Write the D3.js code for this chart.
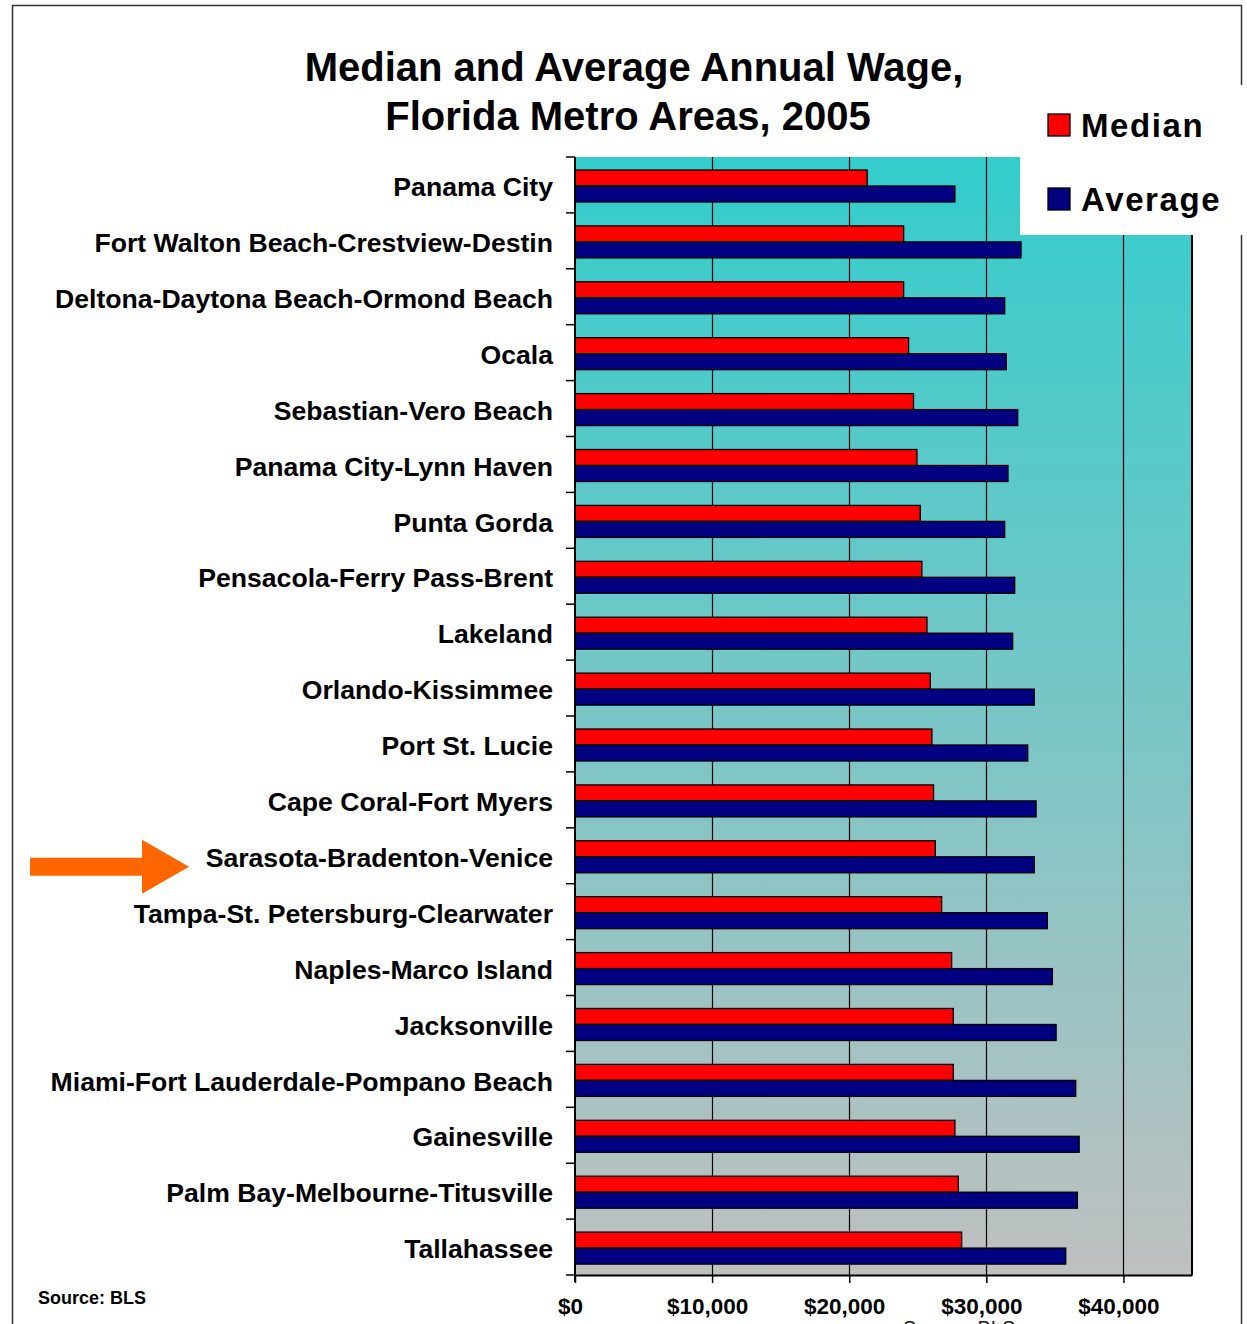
<!DOCTYPE html>
<html lang="en">
<head>
  <meta charset="UTF-8">
  <title>Median and Average Annual Wage</title>
  <style>
    body { margin: 0; background: #fff; }
    text { font-family: "Liberation Sans", Arial, sans-serif; }
  </style>
</head>
<body>
  <script src="https://d3js.org/d3.v7.min.js"></script>
  <script>
    // data
    let metros = [
      "Panama City",
      "Fort Walton Beach-Crestview-Destin",
      "Deltona-Daytona Beach-Ormond Beach",
      "Ocala",
      "Sebastian-Vero Beach",
      "Panama City-Lynn Haven",
      "Punta Gorda",
      "Pensacola-Ferry Pass-Brent",
      "Lakeland",
      "Orlando-Kissimmee",
      "Port St. Lucie",
      "Cape Coral-Fort Myers",
      "Sarasota-Bradenton-Venice",
      "Tampa-St. Petersburg-Clearwater",
      "Naples-Marco Island",
      "Jacksonville",
      "Miami-Fort Lauderdale-Pompano Beach",
      "Gainesville",
      "Palm Bay-Melbourne-Titusville",
      "Tallahassee"
    ];
    let medianWage = [21310, 23970, 23970, 24330, 24690, 24940, 25180, 25300, 25670, 25910,
                      26030, 26150, 26280, 26740, 27470, 27590, 27590, 27710, 27960, 28200];
    let averageWage = [27710, 32530, 31340, 31460, 32290, 31580, 31340, 32070, 31920, 33500,
                       33020, 33630, 33500, 34450, 34820, 35090, 36520, 36770, 36640, 35790];
    let seriesNames = ["Median", "Average"];
    let seriesColors = ["#FF0000", "#000080"];
    let xTicks = [0, 10000, 20000, 30000, 40000];
    let highlighted = "Sarasota-Bradenton-Venice";

    let width = 1247, height = 1324;
    let plotLeft = 575, plotRight = 1192, plotTop = 157, plotBottom = 1275;

    let svg = d3.select("body").append("svg")
      .attr("width", width)
      .attr("height", height);

    // outer frame
    svg.append("rect")
      .attr("x", 12.5).attr("y", 5.5)
      .attr("width", 1229).attr("height", 1360)
      .attr("fill", "none")
      .attr("stroke", "#333")
      .attr("stroke-width", 1.5);

    let grad = svg.append("defs").append("linearGradient")
      .attr("id", "bg")
      .attr("x1", 0).attr("y1", 0).attr("x2", 0).attr("y2", 1);
    grad.append("stop").attr("offset", "0%").attr("stop-color", "#33CCCC");
    grad.append("stop").attr("offset", "100%").attr("stop-color", "#C0C0C0");

    let x = d3.scaleLinear().domain([0, 45000]).range([plotLeft, plotRight]);
    let y0 = d3.scaleBand().domain(metros).range([plotTop, plotBottom]);
    let y1 = d3.scaleBand().domain(seriesNames).range([13, 45]);

    // plot area
    svg.append("rect")
      .attr("x", plotLeft).attr("y", plotTop)
      .attr("width", plotRight - plotLeft).attr("height", plotBottom - plotTop)
      .attr("fill", "url(#bg)");

    // gridlines
    svg.append("g").selectAll("line")
      .data(xTicks.filter(d => d > 0))
      .join("line")
      .attr("x1", d => Math.round(x(d)) + 0.5).attr("x2", d => Math.round(x(d)) + 0.5)
      .attr("y1", plotTop).attr("y2", plotBottom)
      .attr("stroke", "#000").attr("stroke-width", 1.2);

    // right border
    svg.append("line")
      .attr("x1", plotRight).attr("x2", plotRight)
      .attr("y1", plotTop).attr("y2", plotBottom)
      .attr("stroke", "#000").attr("stroke-width", 2);

    // bars
    let rows = metros.map((m, i) => ({ metro: m, values: [medianWage[i], averageWage[i]] }));
    let rowG = svg.append("g").selectAll("g")
      .data(rows)
      .join("g")
      .attr("transform", d => "translate(0," + y0(d.metro) + ")");

    rowG.selectAll("rect")
      .data(d => d.values.map((v, j) => ({ key: seriesNames[j], value: v, color: seriesColors[j] })))
      .join("rect")
      .attr("x", x(0))
      .attr("y", d => y1(d.key))
      .attr("width", d => x(d.value) - x(0))
      .attr("height", y1.bandwidth())
      .attr("fill", d => d.color)
      .attr("stroke", "#000")
      .attr("stroke-width", 1.3);

    // category axis
    let yAxis = svg.append("g")
      .attr("transform", "translate(" + plotLeft + ",0)")
      .call(d3.axisLeft(y0).tickSize(0).tickPadding(22));
    yAxis.select(".domain").remove();
    yAxis.selectAll("text")
      .attr("font-family", "'Liberation Sans', Arial, sans-serif")
      .attr("font-size", 26.6)
      .attr("font-weight", "bold")
      .attr("fill", "#000")
      .attr("dy", "0.42em");

    let bounds = metros.map(m => y0(m)).concat([plotBottom]);
    svg.append("g").selectAll("line")
      .data(bounds)
      .join("line")
      .attr("x1", plotLeft - 9).attr("x2", plotLeft)
      .attr("y1", d => d).attr("y2", d => d)
      .attr("stroke", "#000").attr("stroke-width", 1.5);

    svg.append("line")
      .attr("x1", plotLeft).attr("x2", plotLeft)
      .attr("y1", plotTop).attr("y2", plotBottom + 7)
      .attr("stroke", "#000").attr("stroke-width", 2);

    // value axis
    let xAxis = svg.append("g")
      .attr("transform", "translate(0," + plotBottom + ")")
      .call(d3.axisBottom(x).tickValues(xTicks).tickFormat(d3.format("$,"))
        .tickSize(8).tickSizeOuter(0).tickPadding(15));
    xAxis.select(".domain").attr("stroke-width", 2).attr("stroke", "#000");
    xAxis.selectAll(".tick line").attr("stroke-width", 1.5).attr("stroke", "#000");
    xAxis.selectAll("text")
      .attr("font-family", "'Liberation Sans', Arial, sans-serif")
      .attr("font-size", 22.5)
      .attr("font-weight", "bold")
      .attr("fill", "#000")
      .attr("dx", -5);

    // title
    let title = svg.append("text")
      .attr("text-anchor", "middle")
      .attr("font-size", 40)
      .attr("font-weight", "bold");
    title.append("tspan").attr("x", 634).attr("y", 81).text("Median and Average Annual Wage,");
    title.append("tspan").attr("x", 628).attr("y", 130).text("Florida Metro Areas, 2005");

    // legend
    svg.append("rect")
      .attr("x", 1020).attr("y", 85)
      .attr("width", 240).attr("height", 150)
      .attr("fill", "#fff");
    let legend = svg.append("g").selectAll("g")
      .data(seriesNames)
      .join("g")
      .attr("transform", (d, i) => "translate(1048," + (114 + i * 74) + ")");
    legend.append("rect")
      .attr("width", 22).attr("height", 22)
      .attr("fill", (d, i) => seriesColors[i])
      .attr("stroke", "#000").attr("stroke-width", 1.3);
    legend.append("text")
      .attr("x", 33).attr("y", 23)
      .attr("font-size", 33)
      .attr("font-weight", "bold")
      .attr("letter-spacing", 1.6)
      .text(d => d);

    // arrow pointing at the highlighted metro
    let ay = y0(highlighted) + y0.bandwidth() / 2 + 11;
    svg.append("polygon")
      .attr("points", [
        [30, ay - 9], [142, ay - 9], [142, ay - 27], [189, ay],
        [142, ay + 27], [142, ay + 9], [30, ay + 9]
      ].map(p => p.join(",")).join(" "))
      .attr("fill", "#FF6600");

    // sources
    svg.append("text")
      .attr("x", 38).attr("y", 1304)
      .attr("font-size", 18)
      .attr("font-weight", "bold")
      .text("Source: BLS");
    svg.append("text")
      .attr("x", 903).attr("y", 1335)
      .attr("font-size", 20)
      .attr("fill", "#222")
      .text("Source: BLS");
  </script>
</body>
</html>
